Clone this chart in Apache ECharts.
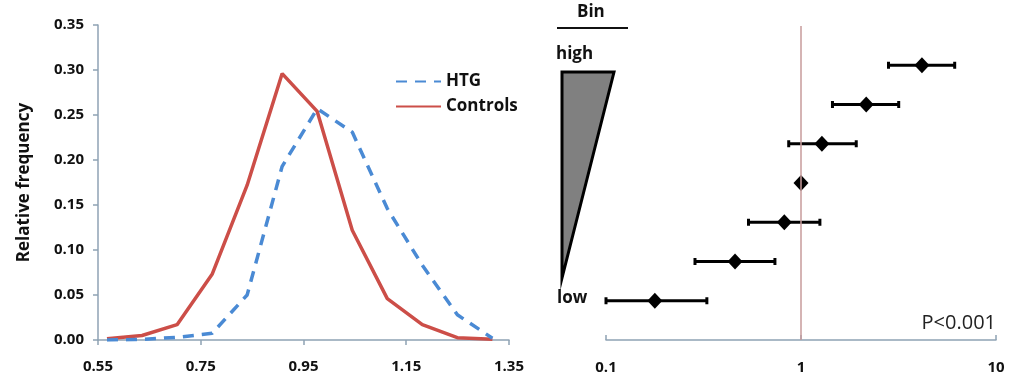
<!DOCTYPE html>
<html>
<head>
<meta charset="utf-8">
<script src="https://cdn.jsdelivr.net/npm/echarts@6/dist/echarts.min.js"></script>
<style>
  html, body { margin: 0; padding: 0; background: #fff; }
  #chart { width: 1011px; height: 379px; }
</style>
</head>
<body>
<div id="chart"></div>
<script>
// left panel: relative frequency distributions
const binCenters = [0.5675, 0.6357, 0.7039, 0.7721, 0.8403, 0.9085, 0.9767, 1.0449, 1.1131, 1.1813, 1.2495, 1.3177];
const htgFreq = [0.000, 0.0007, 0.003, 0.0074, 0.050, 0.193, 0.257, 0.231, 0.146, 0.083, 0.028, 0.002];
const controlFreq = [0.0015, 0.005, 0.017, 0.073, 0.172, 0.296, 0.254, 0.122, 0.046, 0.017, 0.0026, 0.0007];

// right panel: odds ratio per bin, high (7) to low (1)
const binRank = [7, 6, 5, 4, 3, 2, 1];
const oddsRatio = [4.17, 2.16, 1.28, 1.0, 0.821, 0.459, 0.178];
const ciLow = [2.81, 1.45, 0.865, null, 0.538, 0.286, 0.100];
const ciHigh = [6.14, 3.17, 1.92, null, 1.25, 0.735, 0.329];

const font = '"Open Sans", sans-serif';
const axisGrey = '#8fa2b4';

const chart = echarts.init(document.getElementById('chart'));

const errData = [];
binRank.forEach((r, i) => {
    if (ciLow[i] != null) errData.push([r, ciLow[i], ciHigh[i]]);
});

const tickLabel = {fontFamily: font, fontWeight: 700, fontSize: 15, color: '#111'};

let option = {
    animation: false,
    backgroundColor: '#fff',
    textStyle: {fontFamily: font},
    grid: [
        {left: 98, top: 25, width: 411, height: 315},
        {left: 606, top: 26, width: 390, height: 314}
    ],
    legend: {
        orient: 'vertical',
        left: 390,
        top: 68,
        itemWidth: 45,
        itemHeight: 12,
        itemGap: 8,
        itemStyle: {opacity: 0},
        textStyle: {fontFamily: font, fontWeight: 700, fontSize: 17, color: '#111'},
        data: ['HTG', 'Controls']
    },
    xAxis: [
        {
            gridIndex: 0,
            type: 'value',
            min: 0.55,
            max: 1.35,
            interval: 0.2,
            splitLine: {show: false},
            axisLine: {lineStyle: {color: axisGrey, width: 1.5}},
            axisTick: {show: true, length: 5, lineStyle: {color: axisGrey, width: 1.5}},
            axisLabel: Object.assign({margin: 19, formatter: v => v.toFixed(2)}, tickLabel)
        },
        {
            gridIndex: 1,
            type: 'log',
            logBase: 10,
            min: 0.1,
            max: 10,
            splitLine: {show: false},
            axisLine: {lineStyle: {color: axisGrey, width: 1.5}},
            axisTick: {show: true, inside: true, length: 5, lineStyle: {color: axisGrey, width: 1.5}},
            minorTick: {show: false},
            axisLabel: Object.assign({margin: 20, formatter: v => String(v)}, tickLabel)
        }
    ],
    yAxis: [
        {
            gridIndex: 0,
            type: 'value',
            min: 0,
            max: 0.35,
            interval: 0.05,
            name: 'Relative frequency',
            nameLocation: 'middle',
            nameRotate: 90,
            nameGap: 65,
            nameTextStyle: {fontFamily: font, fontWeight: 700, fontSize: 17, color: '#111'},
            splitLine: {show: false},
            axisLine: {show: true, lineStyle: {color: axisGrey, width: 1.5}},
            axisTick: {show: true, length: 5, lineStyle: {color: axisGrey, width: 1.5}},
            axisLabel: Object.assign({margin: 14, formatter: v => v.toFixed(2)}, tickLabel)
        },
        {
            gridIndex: 1,
            type: 'value',
            min: 0,
            max: 8,
            show: false
        }
    ],
    series: [
        {
            name: 'HTG',
            type: 'line',
            xAxisIndex: 0,
            yAxisIndex: 0,
            symbol: 'none',
            color: '#4a8ad4',
            lineStyle: {color: '#4a8ad4', width: 3.5, type: [11, 8]},
            data: binCenters.map((x, i) => [x, htgFreq[i]]),
            z: 3
        },
        {
            name: 'Controls',
            type: 'line',
            xAxisIndex: 0,
            yAxisIndex: 0,
            symbol: 'none',
            color: '#cc4e48',
            lineStyle: {color: '#cc4e48', width: 3.5},
            data: binCenters.map((x, i) => [x, controlFreq[i]]),
            z: 2
        },
        {
            name: 'ci',
            type: 'custom',
            xAxisIndex: 1,
            yAxisIndex: 1,
            encode: {x: [1, 2], y: 0},
            data: errData,
            renderItem: function (params, api) {
                const y = api.value(0);
                const a = api.coord([api.value(1), y]);
                const b = api.coord([api.value(2), y]);
                const h = 3.5;
                const st = {stroke: '#000', lineWidth: 3};
                return {
                    type: 'group',
                    children: [
                        {type: 'line', shape: {x1: a[0], y1: a[1], x2: b[0], y2: b[1]}, style: st},
                        {type: 'line', shape: {x1: a[0], y1: a[1] - h, x2: a[0], y2: a[1] + h}, style: st},
                        {type: 'line', shape: {x1: b[0], y1: b[1] - h, x2: b[0], y2: b[1] + h}, style: st}
                    ]
                };
            },
            z: 3
        },
        {
            name: 'or',
            type: 'scatter',
            xAxisIndex: 1,
            yAxisIndex: 1,
            symbol: 'diamond',
            symbolSize: [15, 16],
            itemStyle: {color: '#000', opacity: 1},
            data: binRank.map((r, i) => [oddsRatio[i], r]),
            markLine: {
                silent: true,
                symbol: 'none',
                label: {show: false},
                lineStyle: {color: '#c79b9b', width: 1.5, type: 'solid'},
                data: [{xAxis: 1}]
            },
            z: 4
        }
    ],
    graphic: [
        {type: 'text', left: 577, top: 4, style: {text: 'Bin', font: 'bold 17px ' + font, fill: '#111'}},
        {type: 'line', shape: {x1: 557, y1: 28, x2: 628, y2: 28}, style: {stroke: '#111', lineWidth: 2}},
        {type: 'text', left: 556, top: 46, style: {text: 'high', font: 'bold 17px ' + font, fill: '#111'}},
        {type: 'text', left: 557, top: 290, style: {text: 'low', font: 'bold 17px ' + font, fill: '#111'}},
        {
            type: 'polygon',
            shape: {points: [[562, 72], [614, 72], [562, 278]]},
            style: {fill: '#808080', stroke: '#000', lineWidth: 3, lineJoin: 'miter'}
        },
        {type: 'text', right: 15, top: 313, style: {text: 'P<0.001', font: '20px ' + font, fill: '#222'}}
    ]
};

chart.setOption(option);
</script>
</body>
</html>
